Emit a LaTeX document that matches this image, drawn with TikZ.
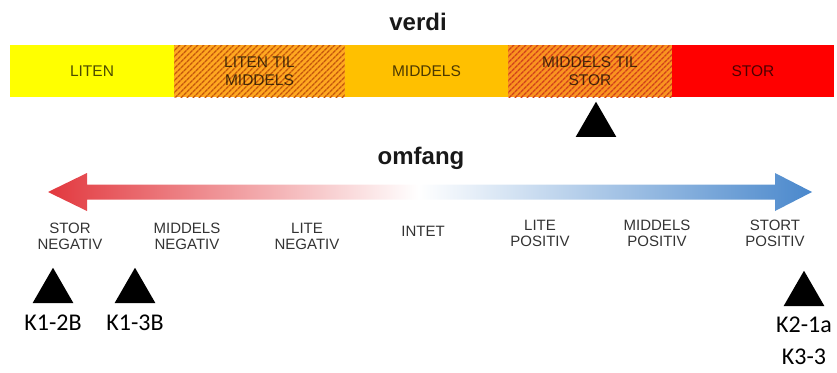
\documentclass[tikz,border=0pt]{standalone}
\usepackage{fontspec}
\setmainfont{Liberation Sans}
\newfontfamily\calibri{Carlito}
\usetikzlibrary{positioning,calc,shapes.geometric,patterns.meta}
\definecolor{valyellow}{HTML}{FFFF00}
\definecolor{valorange}{HTML}{FFC000}
\definecolor{hatchbase}{HTML}{FFA820}
\definecolor{hatchline}{HTML}{C4560C}
\definecolor{hatchbasetwo}{HTML}{FA9420}
\definecolor{hatchlinetwo}{HTML}{D0401A}
\definecolor{valred}{HTML}{FF0000}
\definecolor{arrred}{HTML}{E2383E}
\definecolor{arrblue}{HTML}{4A88CC}
\tikzset{
  seg/.style={rectangle, inner sep=0pt, outer sep=0pt, minimum height=52pt, align=center,
    font=\fontsize{15.5}{18.5}\selectfont, text=black, text opacity=0.7},
  hatch/.style 2 args={fill=#1, postaction={pattern={Lines[angle=45,distance=4pt,line width=1.4pt]}, pattern color=#2}},
  ttl/.style={font=\bfseries\fontsize{24}{26}\selectfont, text=black!90},
  scl/.style={align=center, font=\fontsize{15}{16}\selectfont, text=black!80},
  tri/.style={regular polygon, regular polygon sides=3, fill=black, inner sep=0pt, outer sep=0pt, minimum size=47pt},
  klbl/.style={inner sep=0pt, font=\calibri\fontsize{24}{26}\selectfont}
}
\begin{document}
\begin{tikzpicture}[x=1pt, y=-1pt]
    \useasboundingbox (0,0) rectangle (837,372);

    % verdi scale (bar)
    \node[ttl] (verdi) at (418, 22) {verdi};
    \node[seg, fill=valyellow, minimum width=164pt] (liten) at (92, 71) {LITEN};
    \node[seg, hatch={hatchbase}{hatchline}, minimum width=171pt] (litenmid) at (259.5, 71) {LITEN TIL\\MIDDELS};
    \node[seg, fill=valorange, minimum width=163pt] (middels) at (426.5, 71) {MIDDELS};
    \node[seg, hatch={hatchbasetwo}{hatchlinetwo}, minimum width=164pt] (midstor) at (590, 71) {MIDDELS TIL\\STOR};
    \node[seg, fill=valred, minimum width=162pt] (stor) at (753, 71) {STOR};

    % marker for verdi
    \node[tri, anchor=south] (mverdi) at (596, 137) {};

    % omfang scale (double arrow)
    \node[ttl] (omfang) at (421, 158) {omfang};
    \coordinate (ltip) at (48, 192);
    \coordinate (rtip) at (812, 192);
    \coordinate (mid) at (418, 192);
    \shade[left color=arrred, middle color=arrred!65, right color=white]
      (ltip) -- ++(39, -19) -- ++(0, 11.5) -| ($(mid)+(0,-7.5)$) -- ++(0, 15) -- ++(-331, 0) -- ++(0, 11.5) -- cycle;
    \shade[left color=white, right color=arrblue]
      ($(mid)+(0,-7.5)$) -- ++(357, 0) -- ++(0, -11.5) -- (rtip) -- ++(-37, 19) -- ++(0, -11.5) -- ++(-357, 0) -- cycle;

    % scale labels
    \node[scl] (stneg) at (70, 236) {STOR\\NEGATIV};
    \node[scl] (midneg) at (187, 236) {MIDDELS\\NEGATIV};
    \node[scl] (liteneg) at (307, 236) {LITE\\NEGATIV};
    \node[scl] (intet) at (423, 231) {INTET};
    \node[scl] (litepos) at (540, 233) {LITE\\POSITIV};
    \node[scl] (midpos) at (657, 233) {MIDDELS\\POSITIV};
    \node[scl] (stpos) at (775, 233) {STORT\\POSITIV};

    % markers for omfang
    \node[tri, anchor=south] (m12b) at (53, 303) {};
    \node[tri, anchor=south] (m13b) at (135, 303) {};
    \node[tri, anchor=south] (m21a) at (804, 306) {};
    \node[klbl, below=12pt of m12b] (k12b) {K1-2B};
    \node[klbl, below=12pt of m13b] (k13b) {K1-3B};
    \node[klbl, below=11pt of m21a] (k21a) {K2-1a};
    \node[klbl, below=16pt of k21a] (k33) {K3-3};
\end{tikzpicture}
\end{document}
